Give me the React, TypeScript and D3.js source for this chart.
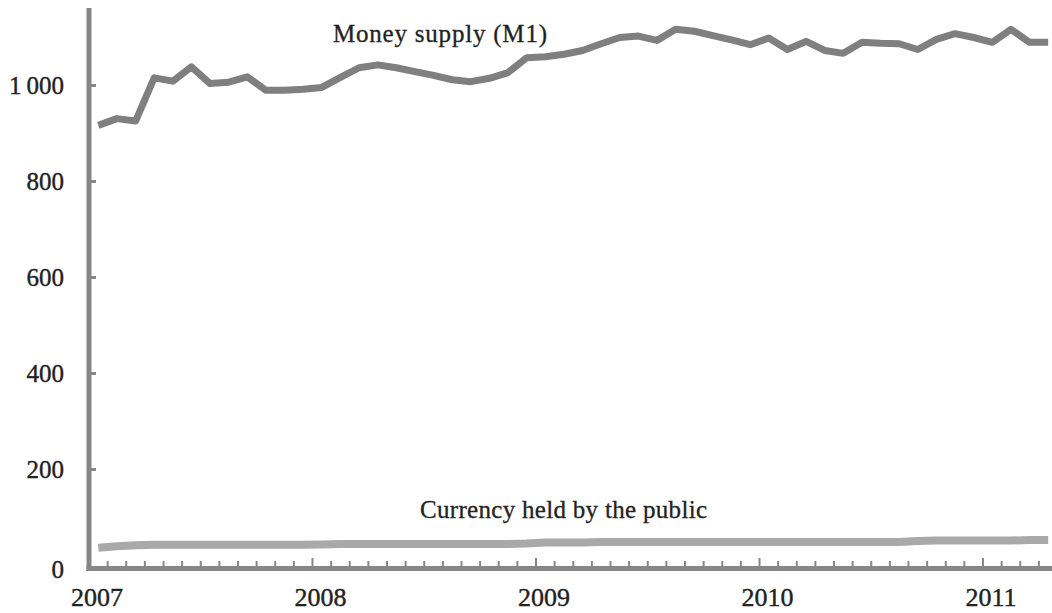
import React, { useEffect, useRef } from 'react'
import * as d3 from 'd3'

// monthly values, Jan 2007 .. Apr 2011
const years = ['2007', '2008', '2009', '2010', '2011']
const yTicks = [0, 200, 400, 600, 800, 1000]

const moneySupply = [
  917, 931, 926, 1016, 1009, 1039, 1004, 1007, 1018, 990, 990, 992,
  996, 1017, 1037, 1043, 1037, 1029, 1021, 1012, 1008, 1015, 1027, 1058,
  1060, 1065, 1073, 1087, 1100, 1103, 1094, 1117, 1113, 1104, 1095, 1085,
  1099, 1075, 1092, 1073, 1067, 1090, 1088, 1087, 1075, 1096, 1108, 1100,
  1090, 1117, 1090, 1090,
]

const currency = [
  37, 40, 42, 43, 43, 43, 43, 43, 43, 43, 43, 43,
  44, 45, 45, 45, 45, 45, 45, 45, 45, 45, 45, 46,
  48, 48, 48, 49, 49, 49, 49, 49, 49, 49, 49, 49,
  49, 49, 49, 49, 49, 49, 49, 49, 51, 52, 52, 52,
  52, 52, 53, 53,
]

const seriesLabels = ['Money supply (M1)', 'Currency held by the public']

const font = "'Liberation Serif', 'Times New Roman', serif"
const ink = '#222'

export default function App() {
  const ref = useRef<SVGSVGElement>(null)

  useEffect(() => {
    const svg = d3.select(ref.current)
    svg.selectAll('*').remove()

    // month index -> px (0 = start of Jan 2007)
    const x = d3.scaleLinear().domain([0, 48]).range([89, 983])
    const y = d3.scaleLinear().domain([0, 1000]).range([565.5, 85.5])

    const line = d3.line<number>()
      .x((d, i) => x(i + 0.5))
      .y(d => y(d))

    // series
    svg.append('path').attr('d', line(currency))
      .attr('fill', 'none')
      .attr('stroke', '#a9a9a9')
      .attr('stroke-width', 8)
      .attr('stroke-linejoin', 'round')

    svg.append('path').attr('d', line(moneySupply))
      .attr('fill', 'none')
      .attr('stroke', '#7f7f7f')
      .attr('stroke-width', 7)
      .attr('stroke-linejoin', 'round')

    // axes
    const axisColor = '#868686'
    svg.append('line')
      .attr('x1', 89).attr('x2', 89)
      .attr('y1', 8).attr('y2', 571)
      .attr('stroke', axisColor).attr('stroke-width', 5)
    svg.append('line')
      .attr('x1', 86.5).attr('x2', 1052)
      .attr('y1', 568.5).attr('y2', 568.5)
      .attr('stroke', axisColor).attr('stroke-width', 5)

    // y ticks + labels
    svg.append('g').selectAll('line')
      .data(yTicks.filter(d => d > 0)).enter().append('line')
        .attr('x1', 89).attr('x2', 96)
        .attr('y1', d => y(d)).attr('y2', d => y(d))
        .attr('stroke', axisColor).attr('stroke-width', 3)

    svg.append('g').selectAll('text')
      .data(yTicks).enter().append('text')
        .attr('x', 64)
        .attr('y', d => (d === 0 ? 569 : y(d)))
        .attr('dy', '0.35em')
        .attr('text-anchor', 'end')
        .attr('font-family', font)
        .attr('font-size', 25)
        .attr('fill', ink).attr('stroke', ink).attr('stroke-width', 0.4)
        .text(d => (d >= 1000 ? d3.format(',')(d).replace(',', '\u2009') : String(d)))

    // x ticks: monthly, taller at each January
    const months = d3.range(1, 53).filter(k => x(k) < 1052)
    svg.append('g').selectAll('line')
      .data(months).enter().append('line')
        .attr('x1', d => x(d)).attr('x2', d => x(d))
        .attr('y1', 567)
        .attr('y2', d => (d % 12 === 0 ? 558 : 561))
        .attr('stroke', axisColor).attr('stroke-width', 2)

    svg.append('g').selectAll('text')
      .data(years).enter().append('text')
        .attr('x', (d, i) => x(i * 12) + 8)
        .attr('y', 606)
        .attr('text-anchor', 'middle')
        .attr('font-family', font)
        .attr('font-size', 26)
        .attr('fill', ink).attr('stroke', ink).attr('stroke-width', 0.4)
        .text(d => d)

    // series labels
    svg.append('text')
      .attr('x', 333).attr('y', 42)
      .attr('font-family', font).attr('font-size', 25)
      .attr('fill', ink).attr('stroke', ink).attr('stroke-width', 0.3)
      .attr('textLength', 214).attr('lengthAdjust', 'spacing')
      .text(seriesLabels[0])

    svg.append('text')
      .attr('x', 420).attr('y', 518)
      .attr('font-family', font).attr('font-size', 25)
      .attr('fill', ink).attr('stroke', ink).attr('stroke-width', 0.3)
      .attr('textLength', 287).attr('lengthAdjust', 'spacing')
      .text(seriesLabels[1])
  }, [])

  return (
    <svg ref={ref} width={1052} height={613}
      style={{ position: 'absolute', left: 0, top: 0, background: '#fff' }} />
  )
}
